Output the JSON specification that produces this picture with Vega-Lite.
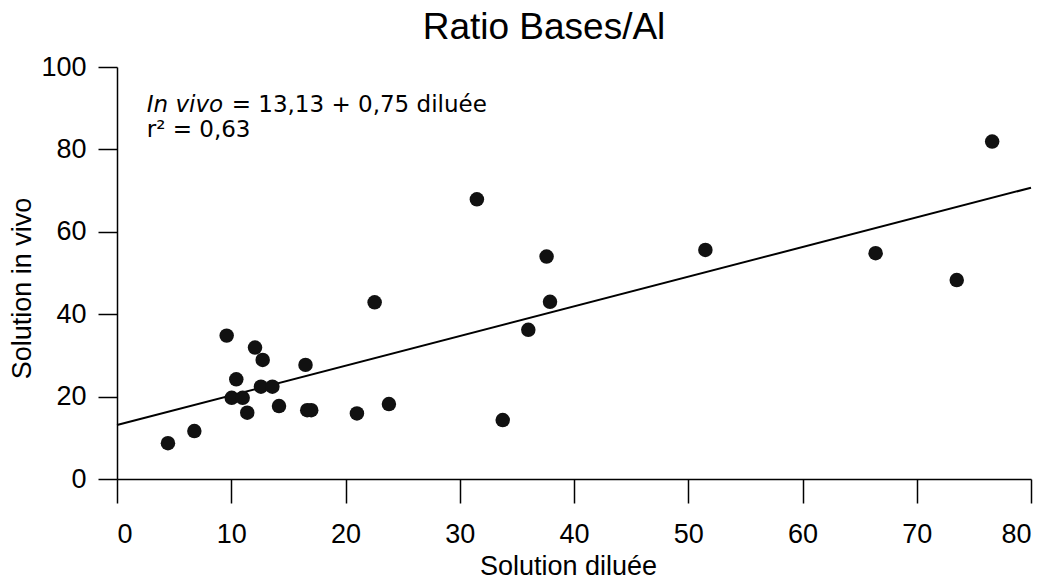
{
  "$schema": "https://vega.github.io/schema/vega-lite/v6.json",
  "width": 914,
  "height": 412,
  "autosize": {"type": "none"},
  "padding": {"left": 117, "top": 67, "right": 22, "bottom": 106},
  "background": "white",
  "title": {
    "text": "Ratio Bases/Al",
    "font": "Liberation Sans",
    "fontSize": 37,
    "fontWeight": "normal",
    "color": "black",
    "dx": -30,
    "offset": 6
  },
  "config": {
    "view": {"stroke": null},
    "axis": {
      "grid": false,
      "domainColor": "black",
      "domainWidth": 1.5,
      "tickColor": "black",
      "tickWidth": 1.5,
      "labelFont": "Liberation Sans",
      "labelFontSize": 27,
      "labelColor": "black",
      "titleFont": "Liberation Sans",
      "titleFontSize": 27,
      "titleFontWeight": "normal",
      "titleColor": "black"
    }
  },
  "datasets": {
    "points": [
      {"diluee": 4.46, "invivo": 8.7},
      {"diluee": 6.77, "invivo": 11.65},
      {"diluee": 9.6, "invivo": 34.8},
      {"diluee": 10.04, "invivo": 19.7},
      {"diluee": 10.44, "invivo": 24.2},
      {"diluee": 11.0, "invivo": 19.7},
      {"diluee": 11.4, "invivo": 16.1},
      {"diluee": 12.08, "invivo": 31.9},
      {"diluee": 12.75, "invivo": 28.9},
      {"diluee": 12.6, "invivo": 22.4},
      {"diluee": 13.6, "invivo": 22.4},
      {"diluee": 14.18, "invivo": 17.7},
      {"diluee": 16.5, "invivo": 27.7},
      {"diluee": 16.65, "invivo": 16.7},
      {"diluee": 17.0, "invivo": 16.7},
      {"diluee": 21.0, "invivo": 15.9},
      {"diluee": 22.55, "invivo": 42.9},
      {"diluee": 23.8, "invivo": 18.2},
      {"diluee": 31.5, "invivo": 67.9},
      {"diluee": 33.76, "invivo": 14.3},
      {"diluee": 36.0, "invivo": 36.2},
      {"diluee": 37.6, "invivo": 54.0},
      {"diluee": 37.9, "invivo": 43.0},
      {"diluee": 51.5, "invivo": 55.6},
      {"diluee": 66.4, "invivo": 54.8},
      {"diluee": 73.5, "invivo": 48.3},
      {"diluee": 76.6, "invivo": 81.9}
    ],
    "fit": [
      {"diluee": 0, "invivo": 13.1},
      {"diluee": 80, "invivo": 70.7}
    ],
    "italic": [
      {"diluee": 2.6, "invivo": 89.1, "label": "In vivo"}
    ],
    "equation": [
      {"diluee": 2.6, "invivo": 89.1, "label": "= 13,13 + 0,75 diluée"}
    ],
    "rsq": [
      {"diluee": 2.6, "invivo": 83.0, "label": "r² = 0,63"}
    ]
  },
  "layer": [
    {
      "data": {"name": "fit"},
      "mark": {"type": "line", "color": "black", "strokeWidth": 2},
      "encoding": {
        "x": {
          "field": "diluee", "type": "quantitative",
          "scale": {"domain": [0, 80], "nice": false, "zero": false},
          "axis": {"values": [0, 10, 20, 30, 40, 50, 60, 70, 80], "tickSize": 24, "labelPadding": 18, "title": "Solution diluée", "titlePadding": 6, "titleX": 451}
        },
        "y": {
          "field": "invivo", "type": "quantitative",
          "scale": {"domain": [0, 100], "nice": false},
          "axis": {"values": [0, 20, 40, 60, 80, 100], "tickSize": 19, "labelPadding": 12, "title": "Solution in vivo", "titlePadding": 4, "titleY": 221}
        }
      }
    },
    {
      "data": {"name": "points"},
      "mark": {"type": "circle", "size": 210, "color": "#111111", "opacity": 1},
      "encoding": {
        "x": {"field": "diluee", "type": "quantitative"},
        "y": {"field": "invivo", "type": "quantitative"}
      }
    },
    {
      "data": {"name": "italic"},
      "mark": {"type": "text", "align": "left", "baseline": "alphabetic", "font": "DejaVu Sans", "fontSize": 23, "fontStyle": "italic", "color": "black"},
      "encoding": {
        "x": {"field": "diluee", "type": "quantitative"},
        "y": {"field": "invivo", "type": "quantitative"},
        "text": {"field": "label"}
      }
    },
    {
      "data": {"name": "equation"},
      "mark": {"type": "text", "align": "left", "baseline": "alphabetic", "font": "DejaVu Sans", "fontSize": 23, "color": "black", "dx": 85},
      "encoding": {
        "x": {"field": "diluee", "type": "quantitative"},
        "y": {"field": "invivo", "type": "quantitative"},
        "text": {"field": "label"}
      }
    },
    {
      "data": {"name": "rsq"},
      "mark": {"type": "text", "align": "left", "baseline": "alphabetic", "font": "DejaVu Sans", "fontSize": 23, "color": "black"},
      "encoding": {
        "x": {"field": "diluee", "type": "quantitative"},
        "y": {"field": "invivo", "type": "quantitative"},
        "text": {"field": "label"}
      }
    }
  ]
}
